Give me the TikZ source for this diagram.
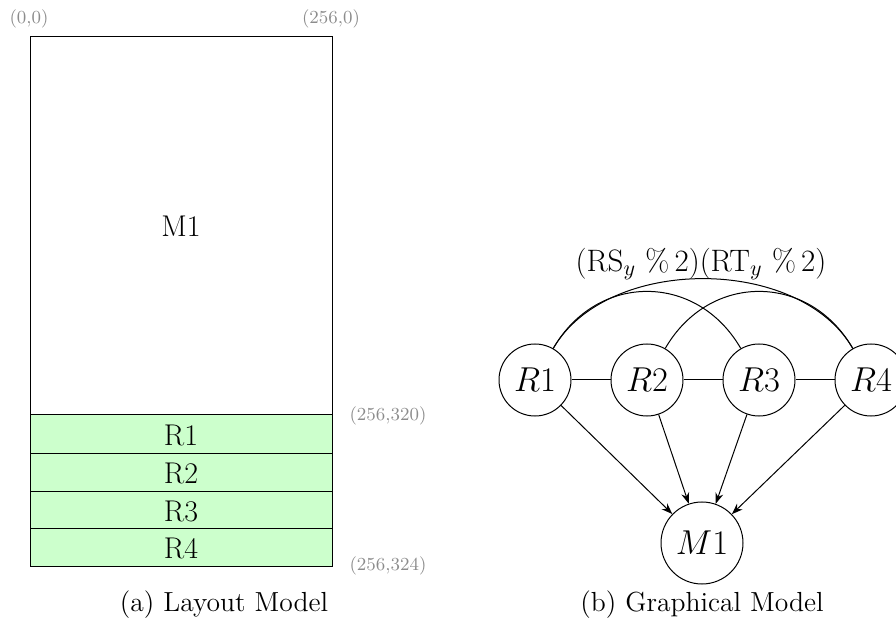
\documentclass[tikz,border=0pt]{standalone}
\usetikzlibrary{arrows.meta}
\definecolor{rowgreen}{HTML}{CCFFCC}
\begin{document}
\begin{tikzpicture}[x=0.5pt,y=-0.5pt,
  every node/.style={font=\fontsize{15}{18}\selectfont},
  region/.style={draw,line width=0.5pt,fill=rowgreen},
  corner/.style={text=black!45,font=\fontsize{9.2}{11}\selectfont,inner sep=0pt},
  gnode/.style={draw,circle,line width=0.5pt,minimum size=36pt,inner sep=0pt,font=\fontsize{16.5}{19}\selectfont},
  edge/.style={line width=0.5pt},
  arr/.style={line width=0.5pt,-{Stealth[length=5.5pt,width=4pt]}},
  caption/.style={font=\fontsize{13.8}{16}\selectfont}]
\useasboundingbox (0,0) rectangle (896,626);
% layout model
\draw[line width=0.5pt] (30,37) rectangle (332,415);
\node (m1lab) at (181,226) {M1};
\draw[region] (30,415) rectangle (332,453);
\draw[region] (30,453) rectangle (332,491);
\draw[region] (30,491) rectangle (332,528);
\draw[region] (30,528) rectangle (332,566);
\node (r1lab) at (181,435) {R1};
\node (r2lab) at (181,473) {R2};
\node (r3lab) at (181,511) {R3};
\node (r4lab) at (181,548) {R4};
\node[corner] (c00) at (29,19) {(0,0)};
\node[corner] (c2560) at (331,19) {(256,0)};
\node[corner] (c256320) at (388,416) {(256,320)};
\node[corner] (c256324) at (388,566) {(256,324)};
\node[caption] (capa) at (224,605) {(a) Layout Model};
% graphical model
\node[gnode] (R1) at (535,380) {$R1$};
\node[gnode] (R2) at (647,380) {$R2$};
\node[gnode] (R3) at (759,380) {$R3$};
\node[gnode] (R4) at (871,380) {$R4$};
\node[gnode,minimum size=41pt] (M1) at (702,543) {$M1$};
\node[font=\fontsize{15.5}{18}\selectfont] (title) at (701,264) {(RS$_y$ \%\,2)(RT$_y$ \%\,2)};
\draw[edge] (R1) -- (R2);
\draw[edge] (R2) -- (R3);
\draw[edge] (R3) -- (R4);
\draw[edge] (R1) to[out=60,in=120,looseness=1.2] (R3);
\draw[edge] (R2) to[out=60,in=120,looseness=1.2] (R4);
\draw[edge] (R1) to[out=60,in=120,looseness=0.92] (R4);
\draw[arr] (R1) -- (M1);
\draw[arr] (R2) -- (M1);
\draw[arr] (R3) -- (M1);
\draw[arr] (R4) -- (M1);
\node[caption] (capb) at (702,605) {(b) Graphical Model};
\end{tikzpicture}
\end{document}
